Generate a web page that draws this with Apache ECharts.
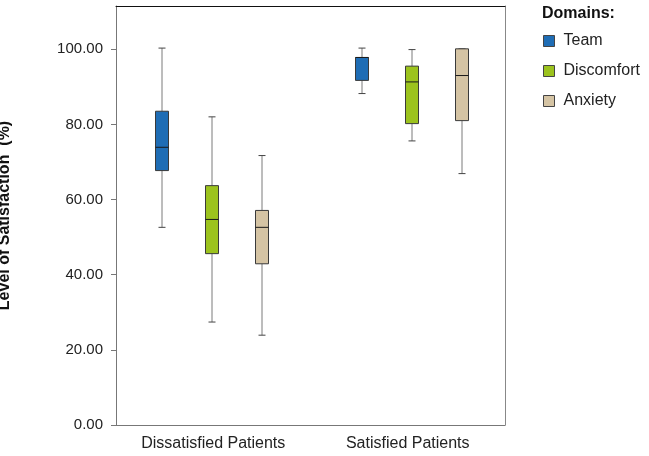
<!DOCTYPE html>
<html>
<head>
<meta charset="utf-8">
<script src="https://cdn.jsdelivr.net/npm/echarts@6/dist/echarts.min.js"></script>
<style>
	html, body { margin: 0; padding: 0; background: #fff; }
	#main { width: 649px; height: 456px; }
</style>
</head>
<body>
<div id="main"></div>
<script>
	// groups on the x axis
	var categories = ['Dissatisfied Patients', 'Satisfied Patients'];
	var domains = ['Team', 'Discomfort', 'Anxiety'];
	var domainColors = ['#1f6db5', '#9cc31e', '#d5c4a4'];

	// [min, q1, median, q3, max] per group
	var teamStats = [
		[52.6, 67.7, 73.9, 83.5, 100.3],
		[88.2, 91.7, 97.8, 97.8, 100.3]
	];
	var discomfortStats = [
		[27.4, 45.6, 54.7, 63.7, 82.0],
		[75.6, 80.2, 91.3, 95.5, 99.9]
	];
	var anxietyStats = [
		[23.9, 42.9, 52.6, 57.1, 71.7],
		[66.9, 81.0, 93.0, 100.1, 100.1]
	];
	var yTicks = [0, 20, 40, 60, 80, 100];

	var allStats = [teamStats, discomfortStats, anxietyStats];
	// each box gets its own slot on a hidden axis, one empty slot between groups
	var slots = ['0', '1', '2', '3', '4', '5', '6'];

	var font = 'Arial, "Liberation Sans", sans-serif';

	var renderBox = function(params, api){
		var slot = api.value(0);
		var lo = api.coord([slot, api.value(1)]);
		var q1 = api.coord([slot, api.value(2)]);
		var med = api.coord([slot, api.value(3)]);
		var q3 = api.coord([slot, api.value(4)]);
		var hi = api.coord([slot, api.value(5)]);
		var x = lo[0];
		var half = 6.5, cap = 3.5;
		var whisker = {stroke: '#7a7a7a', lineWidth: 1};
		return {
			type: 'group',
			children: [
				{type: 'line', shape: {x1: x, y1: hi[1], x2: x, y2: q3[1]}, style: whisker},
				{type: 'line', shape: {x1: x, y1: q1[1], x2: x, y2: lo[1]}, style: whisker},
				{type: 'line', shape: {x1: x - cap, y1: hi[1], x2: x + cap, y2: hi[1]}, style: {stroke: '#444', lineWidth: 1}},
				{type: 'line', shape: {x1: x - cap, y1: lo[1], x2: x + cap, y2: lo[1]}, style: {stroke: '#444', lineWidth: 1}},
				{type: 'rect', shape: {x: x - half, y: q3[1], width: half * 2, height: q1[1] - q3[1]},
					style: {fill: api.visual('color'), stroke: '#3a3a3a', lineWidth: 1}},
				{type: 'line', shape: {x1: x - half, y1: med[1], x2: x + half, y2: med[1]}, style: {stroke: '#1a1a1a', lineWidth: 1}}
			]
		};
	};

	var series = [];
	for( var d = 0; d < domains.length; d++ ){
		var data = [];
		for( var g = 0; g < categories.length; g++ ){
			data.push([g * 4 + d].concat(allStats[d][g]));
		}
		series.push({
			name: domains[d],
			type: 'custom',
			xAxisIndex: 2,
			yAxisIndex: 2,
			itemStyle: {color: domainColors[d]},
			encode: {x: 0, y: [1, 2, 3, 4, 5]},
			renderItem: renderBox,
			data: data
		});
	}

	var chart = echarts.init(document.getElementById('main'));
	chart.setOption({
		animation: false,
		title: {
			text: 'Domains:',
			left: 542,
			top: 6,
			padding: 0,
			textStyle: {fontFamily: font, fontSize: 16, fontWeight: 'bold', color: '#111'}
		},
		legend: {
			orient: 'vertical',
			left: 543,
			top: 33,
			padding: 0,
			icon: 'rect',
			itemWidth: 11,
			itemHeight: 11,
			itemGap: 14,
			textStyle: {fontFamily: font, fontSize: 16, lineHeight: 16, color: '#222', padding: [0, 0, 0, 4]},
			data: domains.map(function(n, i){
				return {name: n, itemStyle: {color: domainColors[i], borderColor: '#444', borderWidth: 1}};
			})
		},
		grid: [
			{left: 116, right: 144, top: 6, bottom: 31, containLabel: false, outerBoundsMode: 'none'},
			{left: 137, width: 350, top: 6, bottom: 31, containLabel: false, outerBoundsMode: 'none'}
		],
		xAxis: [
			{
				type: 'category',
				gridIndex: 0,
				data: categories,
				axisLine: {onZero: false, lineStyle: {color: '#777', width: 1}},
				axisTick: {length: 5, alignWithLabel: true, lineStyle: {color: '#777'}},
				axisLabel: {fontFamily: font, fontSize: 16, color: '#222', margin: 11}
			},
			{
				type: 'category',
				gridIndex: 0,
				position: 'top',
				data: categories,
				axisLine: {onZero: false, lineStyle: {color: '#111', width: 1}},
				axisTick: {show: false},
				axisLabel: {show: false}
			},
			{
				type: 'category',
				gridIndex: 1,
				data: slots,
				show: false
			}
		],
		yAxis: [
			{
				type: 'value',
				gridIndex: 0,
				min: 0,
				max: 111.5,
				name: 'Level of Satisfaction  (%)',
				nameLocation: 'middle',
				nameGap: 103,
				nameTextStyle: {fontFamily: font, fontSize: 16, fontWeight: 'bold', color: '#111'},
				axisLine: {show: true, onZero: false, lineStyle: {color: '#777', width: 1}},
				axisTick: {show: true, length: 5, customValues: yTicks, lineStyle: {color: '#777'}},
				axisLabel: {
					fontFamily: font, fontSize: 15, color: '#222', margin: 13,
					customValues: yTicks,
					formatter: function(v){ return v.toFixed(2); }
				},
				splitLine: {show: false}
			},
			{
				type: 'value',
				gridIndex: 0,
				position: 'right',
				min: 0,
				max: 111.5,
				axisLine: {show: true, onZero: false, lineStyle: {color: '#888', width: 1}},
				axisTick: {show: false},
				axisLabel: {show: false},
				splitLine: {show: false}
			},
			{
				type: 'value',
				gridIndex: 1,
				min: 0,
				max: 111.5,
				show: false,
				splitLine: {show: false}
			}
		],
		series: series
	});
</script>
</body>
</html>
